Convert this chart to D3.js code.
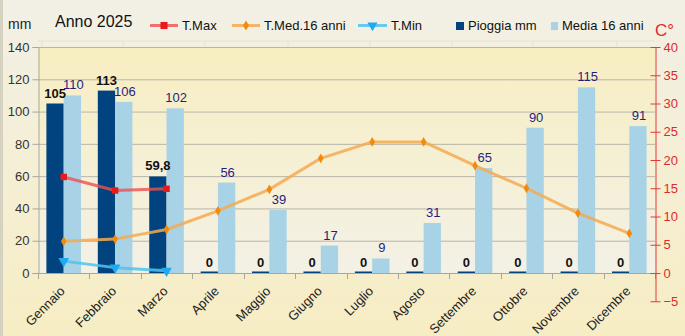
<!DOCTYPE html>
<html><head><meta charset="utf-8">
<script src="https://cdn.jsdelivr.net/npm/d3@7"></script>
<style>html,body{margin:0;padding:0;background:#f2f0e6;}svg{display:block;font-family:"Liberation Sans",Arial,sans-serif;}</style>
</head><body>
<svg id="c" width="685" height="336"></svg>
<script>
const months = ["Gennaio","Febbraio","Marzo","Aprile","Maggio","Giugno","Luglio","Agosto","Settembre","Ottobre","Novembre","Dicembre"];
const pioggia = [105,113,59.8,0,0,0,0,0,0,0,0,0];
const media16 = [110,106,102,56,39,17,9,31,65,90,115,91];
const tMax = [17.0,14.6,14.9,null,null,null,null,null,null,null,null,null];
const tMed = [5.6,6.0,7.7,11.0,14.8,20.3,23.2,23.2,19.0,15.0,10.6,7.0];
const tMin = [2.1,0.95,0.4,null,null,null,null,null,null,null,null,null];
const leftTicks = [0,20,40,60,80,100,120,140];
const rightTicks = [-5,0,5,10,15,20,25,30,35,40];

const svg = d3.select("#c");
const W=685,H=336, L=38, R=655, T=47, B=273;

const defs = svg.append("defs");
const g1 = defs.append("linearGradient").attr("id","outer").attr("x1",0).attr("y1",0).attr("x2",0).attr("y2",1);
g1.append("stop").attr("offset","0%").attr("stop-color","#f2f0e6");
g1.append("stop").attr("offset","100%").attr("stop-color","#f7edc4");
const g2 = defs.append("linearGradient").attr("id","plot").attr("x1",0).attr("y1",0).attr("x2",0).attr("y2",1);
g2.append("stop").attr("offset","0%").attr("stop-color","#f8eec2");
g2.append("stop").attr("offset","100%").attr("stop-color","#f3f1e6");

svg.append("rect").attr("width",W).attr("height",H).attr("fill","url(#outer)");
svg.append("rect").attr("x",0).attr("y",0).attr("width",3).attr("height",H).attr("fill","#d6d2c2");

// faint spreadsheet grid remnants
svg.append("line").attr("x1",L).attr("x2",R).attr("y1",41).attr("y2",41).attr("stroke","#e6e2d3");
[42,123,205,288,370,452,533,617].forEach(x=>svg.append("line").attr("x1",x).attr("x2",x).attr("y1",41).attr("y2",T).attr("stroke","#e6e2d3"));

const x0 = d3.scaleBand().domain(months).range([L,R]).padding(0);
const bw = x0.bandwidth();
const x1 = d3.scaleBand().domain(["p","m"]).range([0,bw]).paddingInner(0).paddingOuter(0.485);
const yL = d3.scaleLinear().domain([0,140]).range([B,T]);
const yR = d3.scaleLinear().domain([-5,40]).range([B+ (B-T)*5/40, T]);

svg.append("rect").attr("x",L).attr("y",T).attr("width",R-L).attr("height",B-T).attr("fill","url(#plot)");

// gridlines
svg.append("g").selectAll("line").data(leftTicks.filter(d=>d>0)).join("line")
  .attr("x1",L).attr("x2",R).attr("y1",d=>yL(d)+0.5).attr("y2",d=>yL(d)+0.5)
  .attr("stroke","#b8b5a8").attr("stroke-width",1);

// left axis
const ax = svg.append("g").attr("transform",`translate(${L+0.5},0)`)
  .call(d3.axisLeft(yL).tickValues(leftTicks).tickSize(6).tickPadding(3));
ax.select(".domain").attr("stroke","#a9a69a");
ax.selectAll(".tick line").attr("stroke","#a9a69a");
ax.selectAll("text").attr("fill","#333").style("font-size","13px").style("font-family","Liberation Sans, Arial, sans-serif");

// bottom axis
svg.append("line").attr("x1",L).attr("x2",R).attr("y1",B+0.5).attr("y2",B+0.5).attr("stroke","#a9a69a");
svg.append("g").selectAll("line").data(months.concat(["_end"])).join("line")
  .attr("x1",(d,i)=>Math.round(L+i*bw)+0.5).attr("x2",(d,i)=>Math.round(L+i*bw)+0.5)
  .attr("y1",B).attr("y2",B+6).attr("stroke","#a9a69a");

// bars
const bars = svg.append("g");
months.forEach((m,i)=>{
  const xp = x0(m)+x1("p"), xm = x0(m)+x1("m");
  const hp = Math.max(1.5, B-yL(pioggia[i]));
  bars.append("rect").attr("x",xp).attr("y",B-hp).attr("width",x1.bandwidth()).attr("height",hp).attr("fill","#00437f");
  bars.append("rect").attr("x",xm).attr("y",yL(media16[i])).attr("width",x1.bandwidth()).attr("height",B-yL(media16[i])).attr("fill","#a8d3e6");
});

// lines
const cx = m => x0(m)+bw/2;
function series(data, stroke, fill, shape){
  const pts = months.map((m,i)=>({m, v:data[i]})).filter(d=>d.v!=null);
  const line = d3.line().x(d=>cx(d.m)).y(d=>yR(d.v));
  svg.append("path").datum(pts).attr("d",line).attr("fill","none").attr("stroke",stroke).attr("stroke-width",3).attr("stroke-linejoin","round");
  const sym = d3.symbol().type(shape.type).size(shape.size);
  svg.append("g").selectAll("path").data(pts).join("path")
    .attr("transform",d=>`translate(${cx(d.m)},${yR(d.v)})${shape.rot||""}`)
    .attr("d",sym).attr("fill",fill);
}
series(tMed, "rgba(245,170,80,0.85)", "#f28a0c", {type:d3.symbolDiamond,size:28});
series(tMax, "rgba(238,80,80,0.8)", "#ea1a1a", {type:d3.symbolSquare,size:42});
series(tMin, "rgba(80,195,240,0.85)", "#1eaaf0", {type:d3.symbolTriangle,size:50,rot:" rotate(180)"});

// value labels
const fmt = v => String(v).replace(".",",");
months.forEach((m,i)=>{
  const xp = x0(m)+x1("p")+x1.bandwidth()/2, xm = x0(m)+x1("m")+x1.bandwidth()/2;
  svg.append("text").attr("x",xp).attr("y",yL(pioggia[i])-6).attr("text-anchor","middle")
    .attr("font-weight","bold").attr("font-size","13px").attr("fill","#111").text(fmt(pioggia[i]));
  svg.append("text").attr("x",xm+1).attr("y",yL(media16[i])-6).attr("text-anchor","middle")
    .attr("font-size","13px").attr("fill","#1f1f80").text(fmt(media16[i]));
});

// right axis
const ar = svg.append("g").attr("transform",`translate(${R+0.5},0)`)
  .call(d3.axisRight(yR).tickValues(rightTicks).tickSize(5).tickPadding(3).tickSizeOuter(0));
ar.select(".domain").attr("stroke","#e03a3a");
ar.selectAll(".tick line").attr("stroke","#e03a3a").attr("x1",-5);
ar.selectAll("text").attr("fill","#e02a2a").style("font-size","13px").style("font-family","Liberation Sans, Arial, sans-serif");

// x labels
svg.append("g").selectAll("text").data(months).join("text")
  .attr("transform",d=>`translate(${cx(d)+2},${B+19}) rotate(-45)`)
  .attr("text-anchor","end").attr("font-size","13px").attr("fill","#222").text(d=>d);

// titles
svg.append("text").attr("x",8).attr("y",29).attr("font-size","14px").attr("fill","#222").text("mm");
svg.append("text").attr("x",55).attr("y",27).attr("font-size","16px").attr("fill","#111").text("Anno 2025");
svg.append("text").attr("x",655).attr("y",36).attr("font-size","17px").attr("fill","#e02a2a").text("C°");

// legend
const lg = svg.append("g").attr("font-size","13px").attr("fill","#111");
function legLine(x1_, x2_, stroke, fill, shape, label, tx){
  lg.append("line").attr("x1",x1_).attr("x2",x2_).attr("y1",25.5).attr("y2",25.5).attr("stroke",stroke).attr("stroke-width",3);
  lg.append("path").attr("transform",`translate(${(x1_+x2_)/2},25.5)${shape.rot||""}`).attr("d",d3.symbol().type(shape.type).size(shape.size)).attr("fill",fill);
  lg.append("text").attr("x",tx).attr("y",30).text(label);
}
legLine(150,178,"rgba(238,80,80,0.8)","#ea1a1a",{type:d3.symbolSquare,size:50},"T.Max",182);
legLine(232,260,"rgba(245,170,80,0.85)","#f28a0c",{type:d3.symbolDiamond,size:30},"T.Med.16 anni",264);
legLine(358,387,"rgba(80,195,240,0.85)","#1eaaf0",{type:d3.symbolTriangle,size:44,rot:" rotate(180)"},"T.Min",391);
lg.append("rect").attr("x",456).attr("y",22).attr("width",8).attr("height",8).attr("fill","#00437f");
lg.append("text").attr("x",468).attr("y",30).text("Pioggia mm");
lg.append("rect").attr("x",551).attr("y",22).attr("width",7).attr("height",8).attr("fill","#a8d3e6");
lg.append("text").attr("x",562).attr("y",30).text("Media 16 anni");
</script>
</body></html>
